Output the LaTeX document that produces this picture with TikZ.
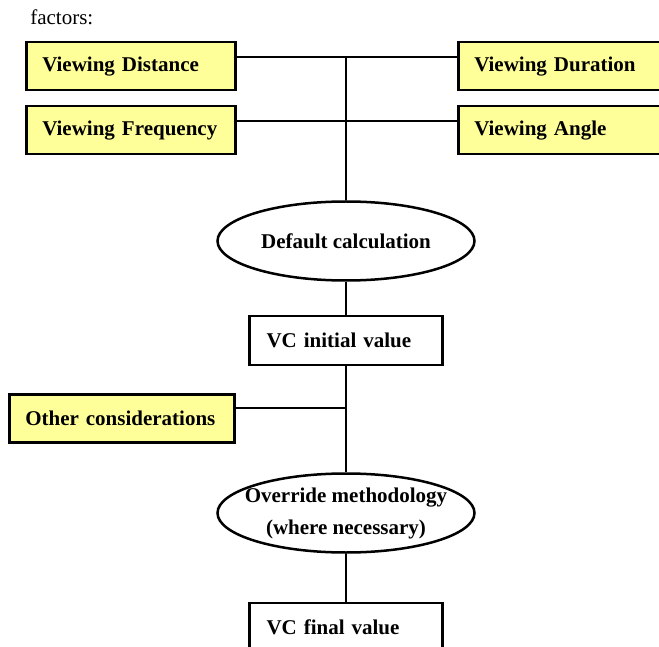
\documentclass[tikz,border=0pt]{standalone}
\usepackage{fontspec}
\setmainfont{Liberation Serif}
\usetikzlibrary{positioning,shapes.geometric}
\definecolor{factorfill}{RGB}{255,255,153}

\begin{document}
\begin{tikzpicture}[x=1pt,y=-1pt,
    line width=2pt,
% Factor boxes
    factor/.style={rectangle,draw,line width=2.5pt,fill=factorfill,anchor=north west,
		minimum width=209pt,minimum height=48pt,inner xsep=16pt,
		text width=177pt,align=left,font=\bfseries\fontsize{21}{25}\selectfont},
    valuebox/.style={rectangle,draw,line width=2.5pt,fill=white,
		minimum height=49pt,inner xsep=17pt,
		text width=159pt,align=left,font=\bfseries\fontsize{21}{25}\selectfont},
    calcnode/.style={ellipse,draw,line width=2.5pt,fill=white,
		minimum width=257pt,minimum height=79pt,inner xsep=-12pt,inner ysep=0pt,
		align=center,font=\bfseries\fontsize{21}{32}\selectfont}
    ]
    \useasboundingbox (0,0) rectangle (659,647);
    \clip (0,0) rectangle (659,647);

    % Place nodes
    \node [anchor=base west,font=\fontsize{21}{25}\selectfont] (title) at (26,25) {factors:};
    \node [factor] (dist) at (25,41) {Viewing Distance};
    \node [factor] (freq) at (25,105) {Viewing Frequency};
    \node [factor] (dur) at (457,41) {Viewing Duration};
    \node [factor] (angle) at (457,105) {Viewing Angle};

    \node [calcnode] (defcalc) at (346,241) {Default calculation};
    \node [valuebox, below=33pt of defcalc] (initval) {VC initial value};
    \node [factor, minimum width=225pt, text width=193pt] (other) at (8,393) {Other considerations};
    \node [calcnode] (override) at (346,513) {Override methodology\\(where necessary)};
    \node [valuebox, below=48pt of override] (finalval) {VC final value};

    \coordinate (trunktop) at (346,57);
    \coordinate (otherjoin) at (346,408);

    % Draw edges
    \draw ([yshift=-16pt]dist.north east) -- ([yshift=-16pt]dur.north west);
    \draw ([yshift=-16pt]freq.north east) -- ([yshift=-16pt]angle.north west);
    \draw (trunktop) -- (defcalc.north);
    \draw (defcalc.south) -- (initval.north);
    \draw (initval.south) -- (override.north);
    \draw ([yshift=-15pt]other.north east) -- (otherjoin);
    \draw (override.south) -- (finalval.north);

\end{tikzpicture}
\end{document}
